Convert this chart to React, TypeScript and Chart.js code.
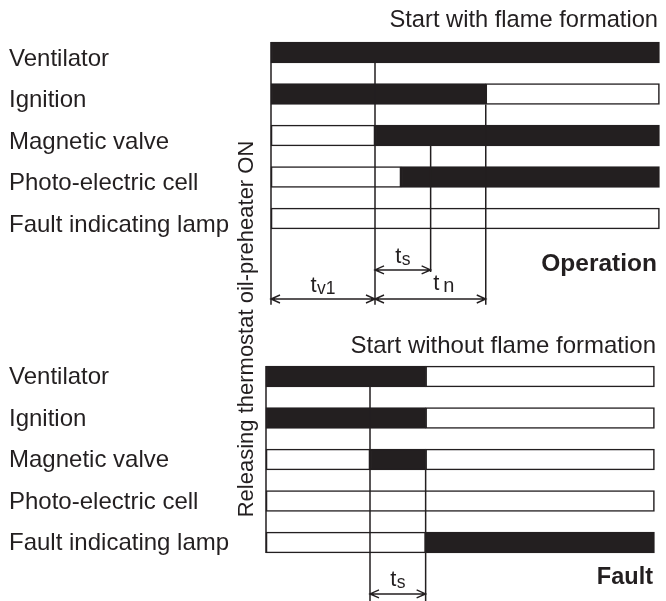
import React, { useEffect, useRef } from "react";
import { Chart, registerables } from "chart.js";

Chart.register(...registerables);

// ---------------- DATA ----------------
const rowLabels = [
  "Ventilator",
  "Ignition",
  "Magnetic valve",
  "Photo-electric cell",
  "Fault indicating lamp",
];

const topTitle = "Start with flame formation";
const bottomTitle = "Start without flame formation";
const topCaption = "Operation";
const bottomCaption = "Fault";
const sideText = "Releasing thermostat oil-preheater ON";

// time values (s)
// Operation: segments where the device is ON (black) / OFF (white box)
const opOnRows = [0, 1, 2, 3];
const opOnFrom = [0, 0, 20, 25];
const opOnTo = [74.7, 41.3, 74.7, 74.7];

const opOffRows = [1, 2, 3, 4];
const opOffFrom = [41.3, 0, 0, 0];
const opOffTo = [74.7, 20, 25, 74.7];

// Fault
const ftOnRows = [0, 1, 2, 4];
const ftOnFrom = [0, 0, 20, 30.7];
const ftOnTo = [30.7, 30.7, 30.7, 74.7];

const ftOffRows = [0, 1, 2, 2, 3, 4];
const ftOffFrom = [30.7, 30.7, 0, 30.7, 0, 0];
const ftOffTo = [74.7, 74.7, 20, 74.7, 74.7, 30.7];

// vertical time markers: time, starting row edge, end level
const opMarkerT = [0, 20, 30.7, 41.3];
const opMarkerFromRow = [0, 0, 2, 1];
const opMarkerFromEdge = ["top", "bottom", "bottom", "bottom"];
const opMarkerTo = ["main", "main", "ts", "main"];

const ftMarkerT = [0, 20, 30.7];
const ftMarkerFromRow = [0, 0, 2];
const ftMarkerFromEdge = ["top", "bottom", "bottom"];
const ftMarkerTo = ["lastRow", "edge", "edge"];

// interval arrows
const opArrowFrom = [0, 20, 20];
const opArrowTo = [20, 41.3, 30.7];
const opArrowLevel = ["main", "main", "ts"];
const opArrowSub = ["v1", "n", "s"];

const ftArrowFrom = [20];
const ftArrowTo = [30.7];
const ftArrowLevel = ["ts"];
const ftArrowSub = ["s"];

// ---------------- LAYOUT ----------------
const W = 666;
const H = 601;
const PX_PER_S = 5.2;
const TOP_X0 = 271;
const BOT_X0 = 266;
const ROW_PITCH = 41.5;
const TOP_Y0 = 52.5;
const BOT_Y0 = 376.5;
const BAR_T = 21;
const HALF_ROW = BAR_T / 2 / ROW_PITCH;
const LEVELS: Record<string, number> = {
  main: 5.94,
  ts: 5.24,
  mainEnd: 6.08,
  tsEnd: 5.29,
  lastRow: 4 + HALF_ROW,
  edge: 6,
};

const INK = "#231f20";
const FONT = '"Liberation Sans", Arial, Helvetica, sans-serif';

function segs(rows: number[], from: number[], to: number[]) {
  return rows.map((r, i) => ({ y: r, x: [from[i], to[i]] }));
}

function markerDatasets(
  t: number[],
  fromRow: number[],
  fromEdge: string[],
  to: string[],
  xId: string,
  yId: string
) {
  return t.map((tv, i) => {
    const y1 = fromRow[i] + (fromEdge[i] === "top" ? -HALF_ROW : HALF_ROW);
    const key = to[i] === "main" ? "mainEnd" : to[i] === "ts" ? "tsEnd" : to[i];
    const y2v = LEVELS[key];
    return {
      type: "line" as const,
      indexAxis: "x" as const,
      data: [
        { x: tv, y: y1 },
        { x: tv, y: y2v },
      ],
      xAxisID: xId,
      yAxisID: yId,
      borderColor: INK,
      borderWidth: 1.5,
      pointRadius: 0,
      fill: false,
      tension: 0,
      order: 0,
    };
  });
}

function barDataset(data: any[], on: boolean, xId: string, yId: string) {
  return {
    type: "bar" as const,
    indexAxis: "y" as const,
    data,
    xAxisID: xId,
    yAxisID: yId,
    backgroundColor: on ? INK : "#ffffff",
    borderColor: INK,
    borderWidth: 1.6,
    borderSkipped: false,
    barThickness: BAR_T,
    grouped: false,
    order: 1,
  };
}

function drawArrow(ctx: CanvasRenderingContext2D, x1: number, x2: number, y: number) {
  const L = 9;
  const S = 4;
  ctx.beginPath();
  ctx.moveTo(x1, y);
  ctx.lineTo(x2, y);
  ctx.moveTo(x1 + L, y - S);
  ctx.lineTo(x1, y);
  ctx.lineTo(x1 + L, y + S);
  ctx.moveTo(x2 - L, y - S);
  ctx.lineTo(x2, y);
  ctx.lineTo(x2 - L, y + S);
  ctx.stroke();
}

function drawTLabel(
  ctx: CanvasRenderingContext2D,
  cx: number,
  base: number,
  sub: string
) {
  const mainFont = `22px ${FONT}`;
  const subSize = sub === "n" ? 20 : 17.5;
  const subFont = `${subSize}px ${FONT}`;
  const gap = sub === "n" ? 4 : 0.5;
  ctx.font = mainFont;
  const wm = ctx.measureText("t").width;
  ctx.font = subFont;
  const ws = ctx.measureText(sub).width;
  const total = wm + gap + ws;
  const left = cx - total / 2;
  ctx.textAlign = "left";
  ctx.textBaseline = "alphabetic";
  ctx.font = mainFont;
  ctx.fillText("t", left, base);
  ctx.font = subFont;
  ctx.fillText(sub, left + wm + gap, base + 2);
}

const annotations = {
  id: "annotations",
  afterDatasetsDraw(chart: any) {
    const ctx: CanvasRenderingContext2D = chart.ctx;
    const { x, x2, y, y2 } = chart.scales;
    ctx.save();
    ctx.fillStyle = INK;
    ctx.strokeStyle = INK;
    ctx.lineWidth = 1.4;

    // row labels
    ctx.font = `24px ${FONT}`;
    ctx.textAlign = "left";
    ctx.textBaseline = "alphabetic";
    rowLabels.forEach((l, i) => {
      ctx.fillText(l, 9, y.getPixelForValue(i) + 13);
      ctx.fillText(l, 9, y2.getPixelForValue(i) + 7.5);
    });

    // titles
    ctx.textAlign = "right";
    ctx.font = `23.7px ${FONT}`;
    ctx.fillText(topTitle, 658, 27);
    ctx.font = `24px ${FONT}`;
    ctx.fillText(bottomTitle, 656, 353);

    // captions
    ctx.font = `bold 24.5px ${FONT}`;
    ctx.fillText(topCaption, 657, 271);
    ctx.font = `bold 23.5px ${FONT}`;
    ctx.fillText(bottomCaption, 653, 584);

    // side rotated text
    ctx.save();
    ctx.translate(253, 329);
    ctx.rotate(-Math.PI / 2);
    ctx.textAlign = "center";
    ctx.font = `22px ${FONT}`;
    ctx.fillText(sideText, 0, 0);
    ctx.restore();

    // arrows - operation
    opArrowFrom.forEach((f, i) => {
      const px1 = x.getPixelForValue(f);
      const px2 = x.getPixelForValue(opArrowTo[i]);
      const py = y.getPixelForValue(LEVELS[opArrowLevel[i]]);
      drawArrow(ctx, px1, px2, py);
      const dx = opArrowSub[i] === "n" ? 13.5 : 0;
      const dy = opArrowSub[i] === "n" ? 9 : 7;
      drawTLabel(ctx, (px1 + px2) / 2 + dx, py - dy, opArrowSub[i]);
    });
    // arrows - fault
    ftArrowFrom.forEach((f, i) => {
      const px1 = x2.getPixelForValue(f);
      const px2 = x2.getPixelForValue(ftArrowTo[i]);
      const py = y2.getPixelForValue(LEVELS[ftArrowLevel[i]]);
      drawArrow(ctx, px1, px2, py);
      drawTLabel(ctx, (px1 + px2) / 2, py - 8, ftArrowSub[i]);
    });

    ctx.restore();
  },
};

export default function App() {
  const ref = useRef<HTMLCanvasElement | null>(null);

  useEffect(() => {
    if (!ref.current) return;
    const datasets: any[] = [
      barDataset(segs(opOffRows, opOffFrom, opOffTo), false, "x", "y"),
      barDataset(segs(opOnRows, opOnFrom, opOnTo), true, "x", "y"),
      barDataset(segs(ftOffRows, ftOffFrom, ftOffTo), false, "x2", "y2"),
      barDataset(segs(ftOnRows, ftOnFrom, ftOnTo), true, "x2", "y2"),
      ...markerDatasets(opMarkerT, opMarkerFromRow, opMarkerFromEdge, opMarkerTo, "x", "y"),
      ...markerDatasets(ftMarkerT, ftMarkerFromRow, ftMarkerFromEdge, ftMarkerTo, "x2", "y2"),
    ];
    const yRange = H / ROW_PITCH;
    const chart = new Chart(ref.current, {
      type: "bar",
      data: { datasets },
      options: {
        animation: false,
        responsive: false,
        indexAxis: "y",
        layout: { padding: 0 },
        events: [],
        plugins: {
          legend: { display: false },
          tooltip: { enabled: false },
          title: { display: false },
        },
        scales: {
          x: {
            type: "linear",
            display: false,
            offset: false,
            min: -TOP_X0 / PX_PER_S,
            max: (W - TOP_X0) / PX_PER_S,
          },
          x2: {
            type: "linear",
            axis: "x",
            display: false,
            offset: false,
            min: -BOT_X0 / PX_PER_S,
            max: (W - BOT_X0) / PX_PER_S,
          },
          y: {
            type: "linear",
            display: false,
            offset: false,
            reverse: true,
            min: -TOP_Y0 / ROW_PITCH,
            max: -TOP_Y0 / ROW_PITCH + yRange,
          },
          y2: {
            type: "linear",
            axis: "y",
            display: false,
            offset: false,
            reverse: true,
            min: -BOT_Y0 / ROW_PITCH,
            max: -BOT_Y0 / ROW_PITCH + yRange,
          },
        },
      } as any,
      plugins: [annotations as any],
    });
    return () => chart.destroy();
  }, []);

  return (
    <div style={{ position: "fixed", left: 0, top: 0, width: W, height: H, background: "#fff" }}>
      <canvas ref={ref} width={W} height={H} style={{ display: "block" }} />
    </div>
  );
}
